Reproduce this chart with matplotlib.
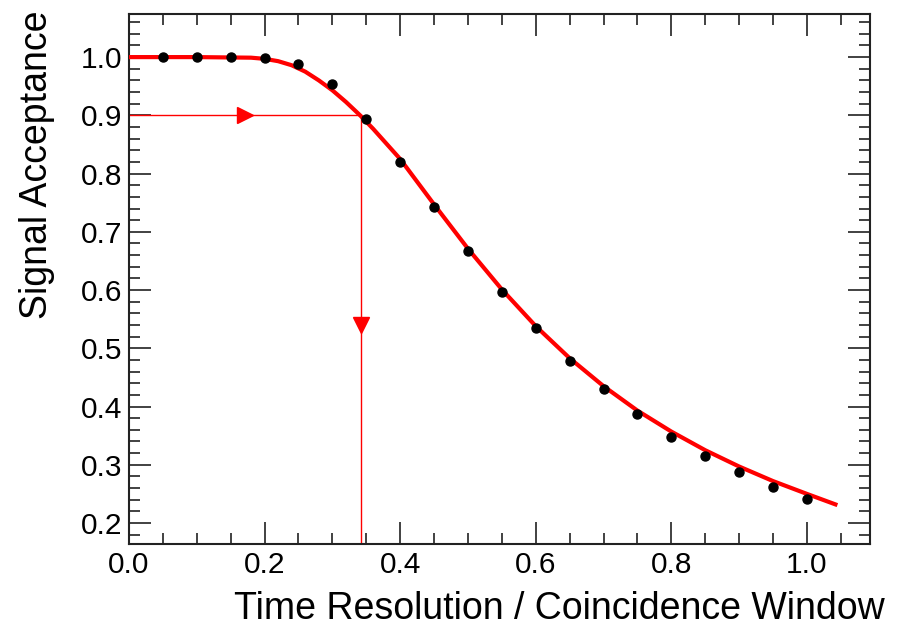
import numpy as np
import matplotlib.pyplot as plt
from matplotlib.ticker import MultipleLocator

plt.rcParams['font.family'] = ['Liberation Sans', 'DejaVu Sans']

# measured points
ratio = [0.05, 0.10, 0.15, 0.20, 0.25, 0.30, 0.35, 0.40, 0.45, 0.50,
         0.55, 0.60, 0.65, 0.70, 0.75, 0.80, 0.85, 0.90, 0.95, 1.00]
acceptance = [1.000, 1.000, 1.000, 0.999, 0.988, 0.954, 0.893, 0.820, 0.742, 0.667,
              0.597, 0.535, 0.479, 0.430, 0.387, 0.348, 0.315, 0.288, 0.262, 0.241]

# fitted curve
fit_x = [0.00, 0.10, 0.18, 0.20, 0.22, 0.24, 0.26, 0.28, 0.30, 0.32, 0.34, 0.36, 0.38,
         0.40, 0.45, 0.50, 0.55, 0.60, 0.65, 0.70, 0.75, 0.80, 0.85, 0.90,
         0.95, 1.00, 1.042]
fit_y = [1.000, 1.000, 0.999, 0.997, 0.993, 0.986, 0.975, 0.960, 0.943, 0.923, 0.901, 0.877, 0.851,
         0.825, 0.747, 0.671, 0.601, 0.538, 0.483, 0.435, 0.393, 0.357, 0.325, 0.297,
         0.272, 0.250, 0.232]

# 90% acceptance working point
target_acc = 0.90
target_x = 0.342

fig = plt.figure(figsize=(9.03, 6.29), dpi=100)
ax = fig.add_axes([129 / 903, 85 / 629, 741 / 903, 530 / 629])

ax.plot(fit_x, fit_y, color='red', lw=3, zorder=3)
ax.plot(ratio, acceptance, 'o', color='black', ms=6.5, zorder=4)

# guide lines with mid arrows
red = '#ff0000'
ax.plot([0, target_x], [target_acc, target_acc], color=red, lw=1, zorder=2)
ax.plot([target_x, target_x], [target_acc, 0.164], color=red, lw=1, zorder=2)
ax.plot([target_x / 2], [target_acc], marker='>', color=red, ms=11, zorder=2)
ax.plot([target_x], [0.54], marker='v', color=red, ms=11, zorder=2)

ax.set_xlim(0, 1.093)
ax.set_ylim(0.164, 1.074)
ax.xaxis.set_major_locator(MultipleLocator(0.2))
ax.xaxis.set_minor_locator(MultipleLocator(0.05))
ax.yaxis.set_major_locator(MultipleLocator(0.1))
ax.yaxis.set_minor_locator(MultipleLocator(0.02))
ax.xaxis.set_major_formatter(plt.FormatStrFormatter('%.1f'))
ax.yaxis.set_major_formatter(plt.FormatStrFormatter('%.1f'))

ax.tick_params(which='both', direction='in', top=True, right=True, color='#333333',
               width=1.3, labelsize=21.5)
ax.tick_params(axis='x', which='major', length=16, pad=5)
ax.tick_params(axis='y', which='major', length=16, pad=5)
ax.tick_params(which='minor', length=8)
for s in ax.spines.values():
    s.set_linewidth(1.5)
    s.set_color('#222222')

ax.set_xlabel('Time Resolution / Coincidence Window', fontsize=27, loc='right')
ax.set_ylabel('Signal Acceptance', fontsize=27, loc='top')
ax.xaxis.set_label_coords(1.02, -0.088)
ax.yaxis.set_label_coords(-0.10, 1.0075)

fig.savefig('out.png', dpi=100)
